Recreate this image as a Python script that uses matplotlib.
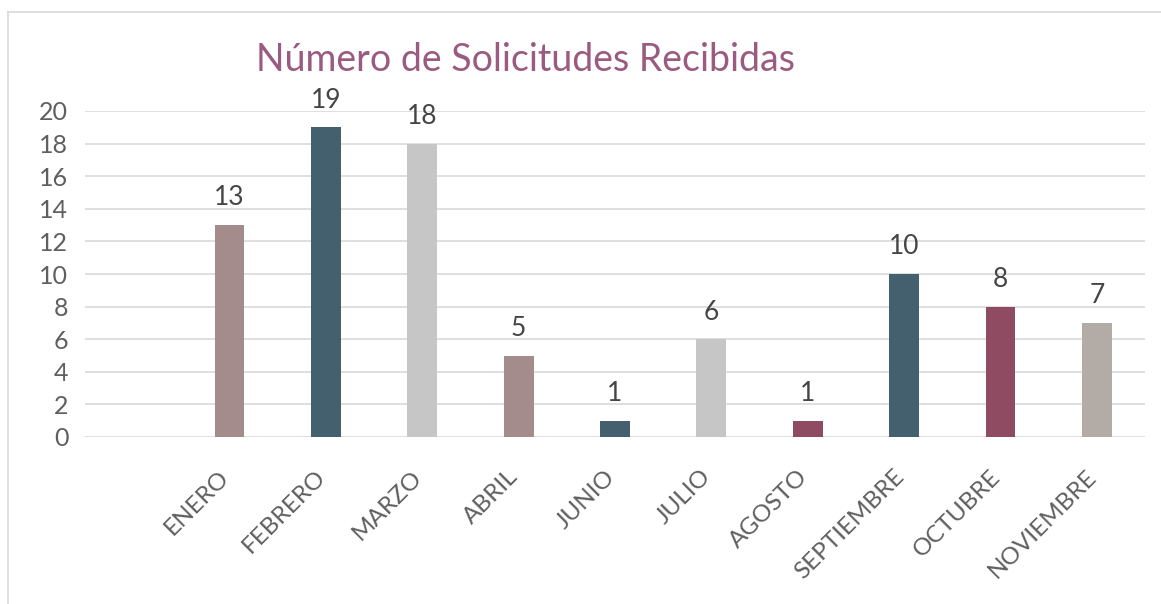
import matplotlib.pyplot as plt
import matplotlib.transforms as mtransforms
from matplotlib.lines import Line2D

# data
months = ['', 'ENERO', 'FEBRERO', 'MARZO', 'ABRIL', 'JUNIO', 'JULIO',
          'AGOSTO', 'SEPTIEMBRE', 'OCTUBRE', 'NOVIEMBRE']
counts = [None, 13, 19, 18, 5, 1, 6, 1, 10, 8, 7]
bar_colors = ['#ffffff', '#a48c8c', '#44606e', '#c6c6c6', '#a48c8c', '#44606e',
              '#c6c6c6', '#8e4b62', '#44606e', '#8e4b62', '#b3aba5']
title = 'Número de Solicitudes Recibidas'

plt.rcParams['font.family'] = ['Lato', 'DejaVu Sans']

fig = plt.figure(figsize=(11.61, 6.04), dpi=100)
ax = fig.add_axes([85 / 1161, 1 - 437 / 604, 1060 / 1161, 326 / 604])

x = list(range(len(months)))
heights = [0 if v is None else v for v in counts]
ax.bar(x, heights, width=0.31, color=bar_colors, zorder=3)

for xi, v in zip(x, counts):
    if v is None:
        continue
    ax.text(xi, v + 0.9, str(v), ha='center', va='bottom',
            fontsize=19, color='#454545')

ax.set_xlim(-0.5, len(months) - 0.5)
ax.set_ylim(0, 20)
ax.set_yticks(range(0, 21, 2))
ax.yaxis.grid(True, color='#d9d9d9', linewidth=1.2, zorder=0)
ax.set_axisbelow(True)
for s in ax.spines.values():
    s.set_visible(False)
ax.tick_params(axis='both', length=0, colors='#5f5f5f')
ax.tick_params(axis='y', labelsize=18, pad=12)
ax.set_xticks(x)
ax.set_xticklabels(months, rotation=45, ha='right', rotation_mode='anchor',
                   fontsize=17.5, color='#5f5f5f')
ax.tick_params(axis='x', pad=17)
shift = mtransforms.ScaledTranslation(-8 / 72, -4 / 72, fig.dpi_scale_trans)
for lbl in ax.get_xticklabels():
    lbl.set_transform(lbl.get_transform() + shift)

fig.text(525 / 1161, 1 - 60 / 604, title, ha='center', va='center',
         fontsize=27, color='#9b5a80')

# light frame around the chart area
fig.add_artist(Line2D([8 / 1161, 1], [1 - 12 / 604] * 2, color='#d9d9d9',
                      linewidth=1.2, transform=fig.transFigure))
fig.add_artist(Line2D([8 / 1161] * 2, [0, 1 - 12 / 604], color='#d9d9d9',
                      linewidth=1.2, transform=fig.transFigure))

fig.savefig('out.png', dpi=100, facecolor='white')
